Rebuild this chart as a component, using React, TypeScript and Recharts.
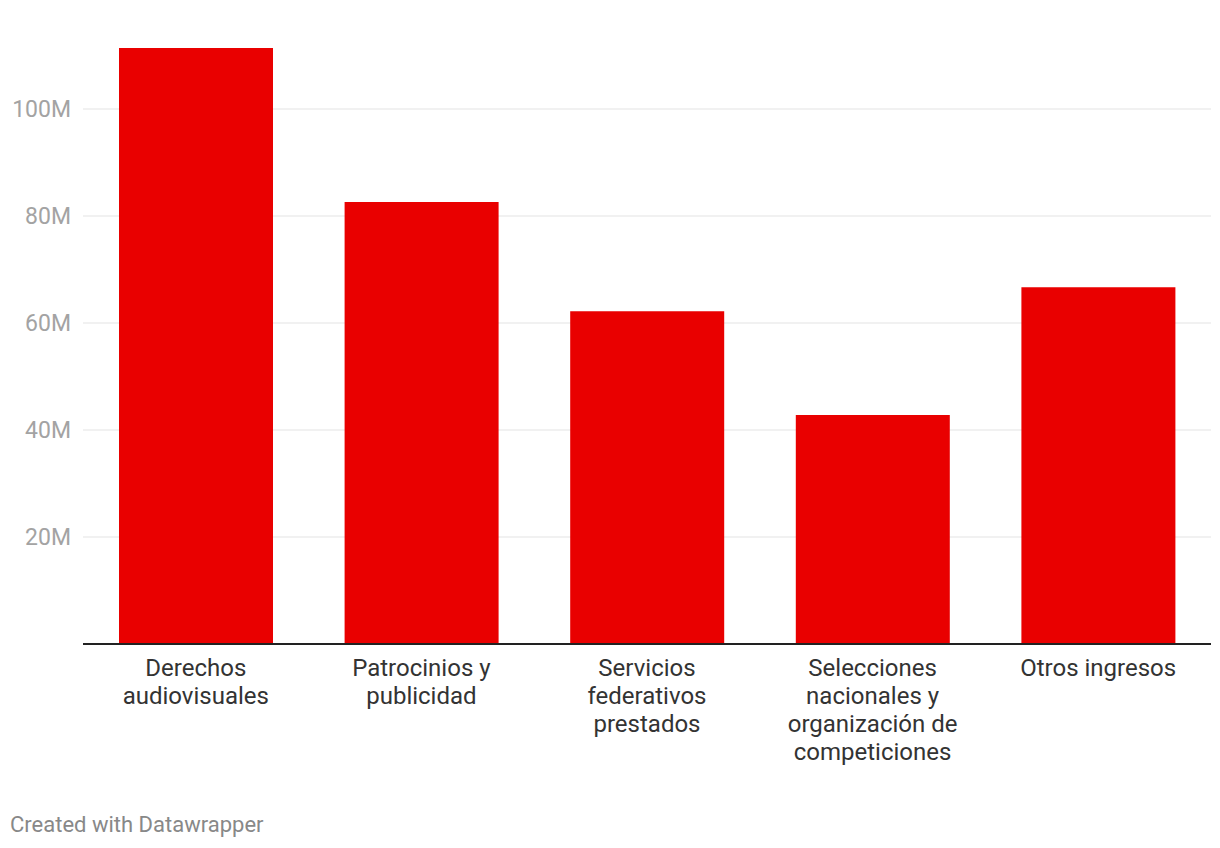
import React from "react";
import { BarChart, Bar, XAxis, YAxis, CartesianGrid } from "recharts";

const categories = [
  "Derechos audiovisuales",
  "Patrocinios y publicidad",
  "Servicios federativos prestados",
  "Selecciones nacionales y organización de competiciones",
  "Otros ingresos",
];
const ingresos = [111.4e6, 82.6e6, 62.2e6, 42.8e6, 66.7e6];
const yTicks = [20e6, 40e6, 60e6, 80e6, 100e6];

const data = categories.map((name, i) => ({ name, value: ingresos[i] }));

const FONT = "Roboto, 'Noto Sans', sans-serif";

// greedy word wrap, datawrapper breaks labels at roughly 16 chars
const wrap = (label: string, max = 16) => {
  const lines: string[] = [];
  let cur = "";
  label.split(" ").forEach((w) => {
    const next = cur ? cur + " " + w : w;
    if (next.length > max && cur) {
      lines.push(cur);
      cur = w;
    } else {
      cur = next;
    }
  });
  if (cur) lines.push(cur);
  return lines;
};

const CategoryTick = ({ x, y, payload }: any) => {
  const lines = wrap(payload.value);
  return (
    <text x={x} y={y} textAnchor="middle" fill="#333" fontSize={24} fontFamily={FONT}>
      {lines.map((l, i) => (
        <tspan key={i} x={x} dy={i === 0 ? 32 : 28}>
          {l}
        </tspan>
      ))}
    </text>
  );
};

export default function App() {
  return (
    <div style={{ position: "absolute", left: 0, top: 0, width: 1220, height: 848, background: "#fff" }}>
      <BarChart
        width={1220}
        height={794}
        data={data}
        margin={{ top: 2, right: 9, left: 1, bottom: 0 }}
        barSize={154}
      >
        <CartesianGrid horizontal vertical={false} stroke="#e3e3e3" horizontalValues={yTicks} />
        <XAxis
          dataKey="name"
          height={150}
          interval={0}
          tickLine={false}
          tickSize={0}
          tickMargin={0}
          axisLine={{ stroke: "#222", strokeWidth: 2 }}
          tick={<CategoryTick />}
        />
        <YAxis
          width={82}
          domain={[0, 120e6]}
          ticks={yTicks}
          axisLine={false}
          tickLine={false}
          tickMargin={6}
          tickFormatter={(v: number) => `${v / 1e6}M`}
          tick={{ fill: "#a3a3a3", fontSize: 23, fontFamily: FONT }}
        />
        <Bar dataKey="value" fill="#e90000" isAnimationActive={false} />
      </BarChart>
      <div
        style={{
          position: "absolute",
          left: 10,
          top: 813,
          fontFamily: FONT,
          fontSize: 22,
          lineHeight: "24px",
          color: "#888",
        }}
      >
        Created with Datawrapper
      </div>
    </div>
  );
}
